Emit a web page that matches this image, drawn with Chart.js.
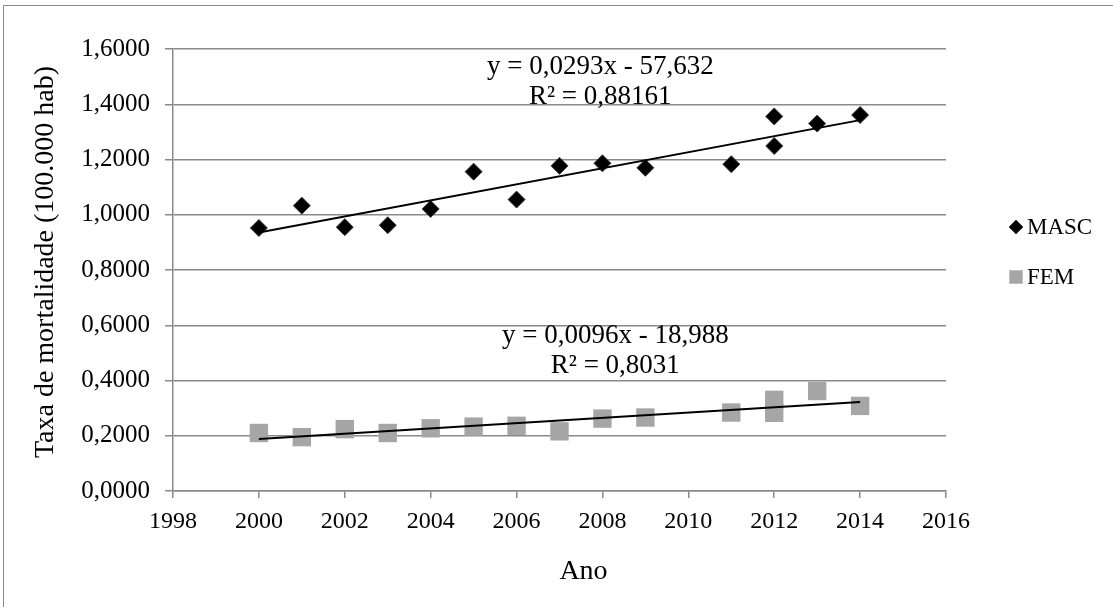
<!DOCTYPE html>
<html>
<head>
<meta charset="utf-8">
<script src="https://cdn.jsdelivr.net/npm/chart.js@4"></script>
<style>
  html, body { margin: 0; padding: 0; background: #fff; overflow: hidden; }
  #frame { position: absolute; left: 3px; top: 5px; width: 1200px; height: 700px;
           border-left: 1.5px solid #8a8a8a; border-top: 1.5px solid #8a8a8a; }
  #chart { position: absolute; left: 0; top: 0; }
</style>
</head>
<body>
<div id="frame"></div>
<canvas id="chart" width="1113" height="607"></canvas>
<script>
// values
const years = [2000, 2001, 2002, 2003, 2004, 2005, 2006, 2007, 2008, 2009, 2011, 2012, 2012, 2013, 2014];
const masc = [0.952, 1.033, 0.955, 0.962, 1.021, 1.156, 1.055, 1.177, 1.186, 1.170, 1.183, 1.356, 1.249, 1.330, 1.361];
const fem = [0.210, 0.195, 0.224, 0.210, 0.227, 0.233, 0.236, 0.216, 0.262, 0.266, 0.284, 0.330, 0.283, 0.362, 0.308];

const xTicks = [1998, 2000, 2002, 2004, 2006, 2008, 2010, 2012, 2014, 2016];
const yTicks = [0, 0.2, 0.4, 0.6, 0.8, 1.0, 1.2, 1.4, 1.6];

const seriesNames = ['MASC', 'FEM'];
const mascEquation = ['y = 0,0293x - 57,632', 'R² = 0,88161'];
const femEquation = ['y = 0,0096x - 18,988', 'R² = 0,8031'];
const xTitle = 'Ano';
const yTitle = 'Taxa de mortalidade (100.000 hab)';

const FONT = '"Liberation Serif", "Times New Roman", serif';

const toPoints = (xs, ys) => xs.map((x, i) => ({ x, y: ys[i] }));

// least squares line over the data range, like the spreadsheet trendline
const trend = (xs, ys) => {
  const n = xs.length;
  const mx = xs.reduce((a, b) => a + b, 0) / n;
  const my = ys.reduce((a, b) => a + b, 0) / n;
  let sxy = 0, sxx = 0;
  xs.forEach((x, i) => { sxy += (x - mx) * (ys[i] - my); sxx += (x - mx) * (x - mx); });
  const b = sxy / sxx;
  const a = my - b * mx;
  const x0 = Math.min(...xs), x1 = Math.max(...xs);
  return [{ x: x0, y: a + b * x0 }, { x: x1, y: a + b * x1 }];
};

const mascStyle = { pointStyle: 'rectRot', radius: 8.5, fill: '#000', stroke: '#3a3a3a', border: 1 };
const femStyle = { pointStyle: 'rect', radius: 13, fill: '#a6a6a6', stroke: '#a6a6a6', border: 0 };

// equation labels, placed in data units
const notes = [
  { lines: mascEquation, x: 2007.95, y: 1.535, step: 0.107 },
  { lines: femEquation, x: 2008.3, y: 0.561, step: 0.109 }
];

const notesPlugin = {
  id: 'notes',
  afterDatasetsDraw(chart) {
    const { ctx } = chart;
    const { x, y } = chart.scales;
    ctx.save();
    ctx.font = '27px ' + FONT;
    ctx.fillStyle = '#000';
    ctx.textAlign = 'center';
    ctx.textBaseline = 'middle';
    notes.forEach(n => {
      n.lines.forEach((t, i) => {
        ctx.fillText(t, x.getPixelForValue(n.x), y.getPixelForValue(n.y - i * n.step));
      });
    });
    ctx.restore();
  }
};

// axis titles sit a little off-centre in the original
const titlesPlugin = {
  id: 'axisTitles',
  afterDraw(chart) {
    const { ctx, chartArea } = chart;
    ctx.save();
    ctx.fillStyle = '#000';
    ctx.textAlign = 'center';
    ctx.textBaseline = 'middle';
    ctx.font = '28px ' + FONT;
    ctx.fillText(xTitle, (chartArea.left + chartArea.right) / 2 + 24, 572);
    ctx.translate(46, 262);
    ctx.rotate(-Math.PI / 2);
    ctx.font = '28px ' + FONT;
    ctx.fillText(yTitle, 0, 0);
    ctx.restore();
  }
};

const legendPlugin = {
  id: 'sideLegend',
  afterDraw(chart) {
    const { ctx, chartArea } = chart;
    const left = chartArea.right + 70;
    const rows = [
      { name: seriesNames[0], style: mascStyle, y: 227, r: 7 },
      { name: seriesNames[1], style: femStyle, y: 277, r: 9.5 }
    ];
    ctx.save();
    rows.forEach(row => {
      ctx.fillStyle = row.style.fill;
      ctx.strokeStyle = row.style.stroke;
      Chart.helpers.drawPoint(ctx, {
        pointStyle: row.style.pointStyle,
        radius: row.r,
        rotation: 0,
        borderWidth: row.style.border
      }, left, row.y);
      ctx.font = '23px ' + FONT;
      ctx.fillStyle = '#000';
      ctx.textAlign = 'left';
      ctx.textBaseline = 'middle';
      ctx.fillText(row.name, left + 11, row.y + 1);
    });
    ctx.restore();
  }
};

const gridColor = '#8a8a8a';

new Chart(document.getElementById('chart'), {
  type: 'scatter',
  data: {
    datasets: [
      {
        type: 'line', data: trend(years, masc), borderColor: '#000', borderWidth: 2,
        pointRadius: 0, fill: false, order: 0
      },
      {
        type: 'line', data: trend(years, fem), borderColor: '#000', borderWidth: 2,
        pointRadius: 0, fill: false, order: 0
      },
      {
        label: seriesNames[0], data: toPoints(years, masc), order: 1,
        pointStyle: mascStyle.pointStyle, pointRadius: mascStyle.radius,
        backgroundColor: mascStyle.fill, borderColor: mascStyle.stroke, borderWidth: mascStyle.border
      },
      {
        label: seriesNames[1], data: toPoints(years, fem), order: 1,
        pointStyle: femStyle.pointStyle, pointRadius: femStyle.radius,
        backgroundColor: femStyle.fill, borderColor: femStyle.stroke, borderWidth: femStyle.border
      }
    ]
  },
  options: {
    responsive: false,
    animation: false,
    events: [],
    layout: { padding: { left: 29, top: 49, right: 167, bottom: 0 } },
    plugins: { legend: { display: false }, tooltip: { enabled: false } },
    scales: {
      x: {
        type: 'linear', min: 1998, max: 2016,
        afterFit: s => { s.height = 116; },
        afterBuildTicks: s => { s.ticks = xTicks.map(v => ({ value: v })); },
        grid: { drawOnChartArea: false, drawTicks: true, tickLength: 7, color: gridColor, lineWidth: 1.5 },
        border: { color: gridColor, width: 1.5 },
        ticks: {
          color: '#000', padding: 9, maxRotation: 0,
          font: { family: FONT, size: 24 },
          callback: v => String(v)
        }
      },
      y: {
        type: 'linear', min: 0, max: 1.6,
        afterFit: s => { s.width = 144; },
        afterBuildTicks: s => { s.ticks = yTicks.map(v => ({ value: v })); },
        grid: { drawTicks: true, tickLength: 8, color: gridColor, lineWidth: 1.5 },
        border: { color: gridColor, width: 1.5 },
        ticks: {
          color: '#000', padding: 15,
          font: { family: FONT, size: 25 },
          callback: v => v.toFixed(4).replace('.', ',')
        }
      }
    }
  },
  plugins: [notesPlugin, titlesPlugin, legendPlugin]
});
</script>
</body>
</html>
